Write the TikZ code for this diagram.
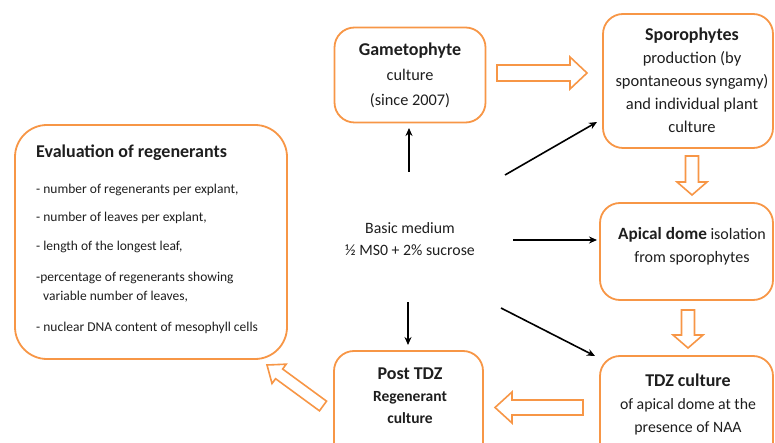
\documentclass[tikz,border=0pt]{standalone}
\usepackage{fontspec}
\setmainfont{Carlito}
\usetikzlibrary{arrows.meta,calc}
\definecolor{orng}{RGB}{247,150,70}
\definecolor{txt}{RGB}{30,30,30}
\tikzset{
  box/.style={draw=orng, line width=1.8pt, rounded corners=20pt, inner sep=0pt},
  hollow/.style={draw=orng, line width=1.6pt, line join=miter, fill=white},
  barrow/.style={draw=black, line width=1.6pt, -{Stealth[length=8pt,width=7pt]}},
  bodytxt/.style={text=txt, align=center, inner sep=0pt},
  item/.style={text=txt, anchor=west, inner sep=0pt, font=\fontsize{13.5}{17}\selectfont}
}
% #1 start, #2 end, #3 half shaft, #4 half head, #5 head length, #6 name
\newcommand\holarr[6]{%
  \coordinate (#6h) at ($(#2)!#5!(#1)$);
  \draw[hollow] ($(#1)!#3!90:(#2)$) -- ($(#6h)!#3!-90:(#1)$) -- ($(#6h)!#4!-90:(#1)$)
    -- (#2) -- ($(#6h)!#4!90:(#1)$) -- ($(#6h)!#3!90:(#1)$) -- ($(#1)!#3!-90:(#2)$) -- cycle;}
\begin{document}
\begin{tikzpicture}[x=1pt,y=-1pt]
\useasboundingbox (0,0) rectangle (775,443);
\clip (0,0) rectangle (775,443);
% boxes
\node[box, minimum width=151pt, minimum height=95pt] (gam) at (410,75) {};
\node[box, minimum width=170pt, minimum height=134pt] (spo) at (688,81) {};
\node[box, minimum width=173pt, minimum height=97pt] (api) at (686.5,251.5) {};
\node[box, minimum width=173pt, minimum height=114pt] (tdz) at (686.5,413) {};
\node[box, minimum width=149pt, minimum height=119pt] (post) at (408.5,410.5) {};
\node[box, rounded corners=32pt, minimum width=272pt, minimum height=234pt] (eval) at (151,242) {};
% box texts
\node[bodytxt, font=\fontsize{16.3}{25}\selectfont] (gamT) at (410,75)
  {{\fontsize{18}{25}\selectfont\bfseries Gametophyte}\\culture\\(since 2007)};
\node[bodytxt, font=\fontsize{16.5}{23}\selectfont] (spoT) at (692,80)
  {{\fontsize{18}{23}\selectfont\bfseries Sporophytes}\\production (by\\spontaneous syngamy)\\and individual plant\\culture};
\node[bodytxt, font=\fontsize{16}{23}\selectfont] (apiT) at (692,246)
  {{\fontsize{17.2}{23}\selectfont\bfseries Apical dome} isolation\\from sporophytes};
\node[bodytxt, font=\fontsize{15.8}{23}\selectfont] (tdzT) at (688,404)
  {{\fontsize{18}{23}\selectfont\bfseries TDZ culture}\\of apical dome at the\\presence of NAA};
\node[bodytxt, font=\fontsize{15.5}{22}\selectfont\bfseries] (postT) at (410,396)
  {{\fontsize{18}{23}\selectfont Post TDZ}\\Regenerant\\culture};
\node[bodytxt, font=\fontsize{15.8}{22}\selectfont] (basic) at (410,239)
  {Basic medium\\½ MS0 + 2\% sucrose};
% evaluation texts
\node[item, font=\fontsize{18}{22}\selectfont\bfseries] (evT) at (36,153) {Evaluation of regenerants};
\node[item] (ev1) at (36,190) {- number of regenerants per explant,};
\node[item] (ev2) at (36,218) {- number of leaves per explant,};
\node[item] (ev3) at (36,247) {- length of the longest leaf,};
\node[item] (ev4) at (36,278) {-percentage of regenerants showing};
\node[item] (ev4b) at (43,297) {variable number of leaves,};
\node[item] (ev5) at (36,328) {- nuclear DNA content of mesophyll cells};
% black arrows
\coordinate (b1s) at (409,172); \coordinate (b1e) at (409,128);
\coordinate (b2s) at (505,175); \coordinate (b2e) at (597,122);
\coordinate (b3s) at (513,240); \coordinate (b3e) at (597,240);
\coordinate (b4s) at (408,302); \coordinate (b4e) at (408,345);
\coordinate (b5s) at (501,308); \coordinate (b5e) at (595,356);
\draw[barrow] (b1s) -- (b1e);
\draw[barrow] (b2s) -- (b2e);
\draw[barrow] (b3s) -- (b3e);
\draw[barrow] (b4s) -- (b4e);
\draw[barrow] (b5s) -- (b5e);
% hollow arrows
\coordinate (h1s) at (497,73);    \coordinate (h1e) at (587,73);
\coordinate (h2s) at (692,156);   \coordinate (h2e) at (692,195);
\coordinate (h3s) at (688,310);   \coordinate (h3e) at (688,348);
\coordinate (h4s) at (583,407.5); \coordinate (h4e) at (495,407.5);
\coordinate (h5s) at (323,406);   \coordinate (h5e) at (267,365);
\holarr{h1s}{h1e}{8pt}{16pt}{17pt}{h1}
\holarr{h2s}{h2e}{6.5pt}{15pt}{13pt}{h2}
\holarr{h3s}{h3e}{6.5pt}{15pt}{13pt}{h3}
\holarr{h4s}{h4e}{7.5pt}{15.5pt}{17pt}{h4}
\holarr{h5s}{h5e}{6pt}{12pt}{15pt}{h5}
\end{tikzpicture}
\end{document}
